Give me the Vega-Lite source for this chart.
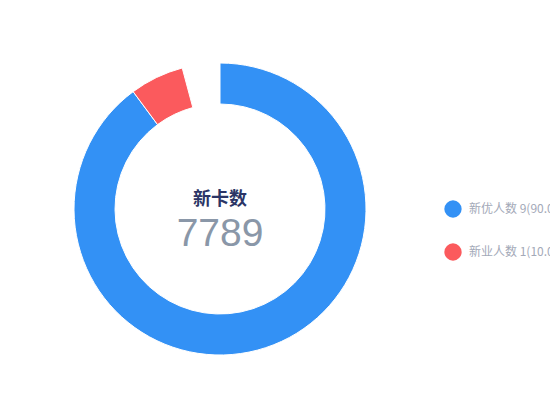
{
  "$schema": "https://vega.github.io/schema/vega-lite/v6.json",
  "width": 440,
  "height": 418,
  "autosize": "none",
  "padding": {"left": 0, "top": 0, "right": 110, "bottom": 2},
  "background": "white",
  "config": {
    "view": {"stroke": null},
    "font": "Noto Sans CJK SC"
  },
  "layer": [
    {
      "data": {
        "values": [
          {"name": "新优人数 9(90.0%)", "start": 0, "end": 323.5},
          {"name": "新业人数 1(10.0%)", "start": 323.5, "end": 345}
        ]
      },
      "mark": {"type": "arc", "outerRadius": 146, "innerRadius": 105, "stroke": "white", "strokeWidth": 1},
      "encoding": {
        "theta": {"field": "start", "type": "quantitative", "scale": {"domain": [0, 360]}},
        "theta2": {"field": "end"},
        "color": {
          "field": "name",
          "type": "nominal",
          "sort": null,
          "scale": {"domain": ["新优人数 9(90.0%)", "新业人数 1(10.0%)"], "range": ["#3391f5", "#fb5a5d"]},
          "legend": {
            "title": null,
            "orient": "none",
            "legendX": 444,
            "legendY": 200,
            "symbolType": "circle",
            "symbolSize": 300,
            "symbolStrokeWidth": 0,
            "labelFontSize": 12,
            "labelColor": "#a3a9b8",
            "labelOffset": 7,
            "labelLimit": 300,
            "rowPadding": 25
          }
        }
      }
    },
    {
      "data": {"values": [{"title": "新卡数", "total": "7789"}]},
      "layer": [
        {
          "mark": {"type": "text", "fontSize": 18, "fontWeight": "bold", "color": "#2b3566", "baseline": "middle", "dy": -9},
          "encoding": {"text": {"field": "title"}}
        },
        {
          "mark": {"type": "text", "fontSize": 39, "color": "#8a97a8", "baseline": "middle", "dy": 25, "font": "Helvetica, Liberation Sans, Arial"},
          "encoding": {"text": {"field": "total"}}
        }
      ]
    }
  ]
}
